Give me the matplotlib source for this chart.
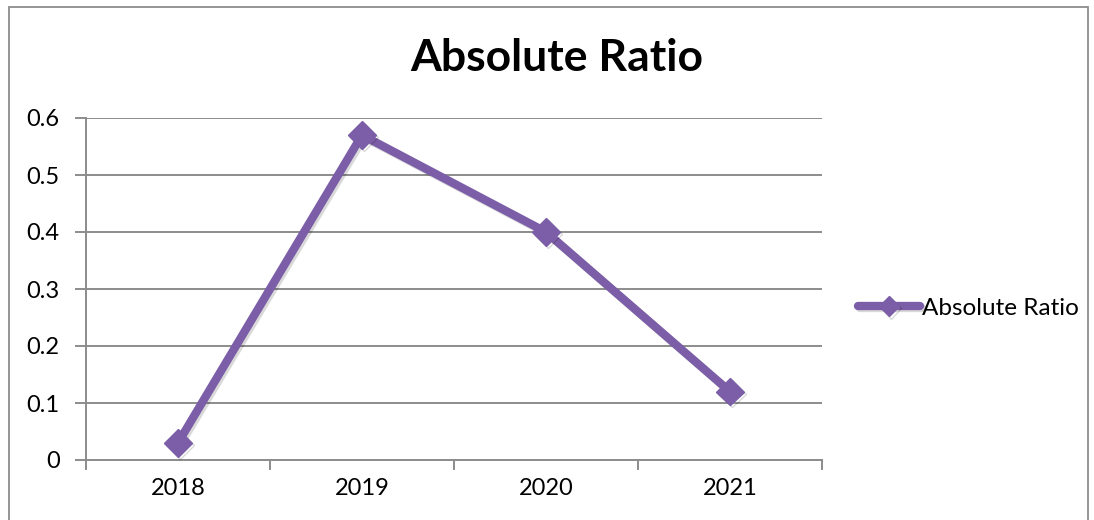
import matplotlib.pyplot as plt
from matplotlib.patches import Rectangle
import matplotlib.patheffects as pe

years = ["2018", "2019", "2020", "2021"]
ratio = [0.03, 0.57, 0.40, 0.12]
y_ticks = [0, 0.1, 0.2, 0.3, 0.4, 0.5, 0.6]
y_labels = ["0", "0.1", "0.2", "0.3", "0.4", "0.5", "0.6"]

plt.rcParams['font.family'] = ['Lato', 'DejaVu Sans']
purple = '#7b5ea7'
grid_grey = '#8c8c8c'

fig = plt.figure(figsize=(10.94, 5.2), dpi=100)
# outer chart frame
fig.patches.append(Rectangle((9 / 1094, -0.05), 1079 / 1094, 1.05 - 7 / 520,
                             transform=fig.transFigure, fill=False,
                             edgecolor='#8c8c8c', linewidth=1.3))

ax = fig.add_axes([86 / 1094, 60 / 520, 736 / 1094, 342 / 520])
x = list(range(len(years)))
line, = ax.plot(x, ratio, color=purple, linewidth=6, marker='D', markersize=14,
                markerfacecolor=purple, markeredgecolor=purple,
                solid_capstyle='round', label='Absolute Ratio', zorder=3)
line.set_path_effects([pe.SimpleLineShadow(offset=(1.5, -1.5), alpha=0.15), pe.Normal()])

ax.set_xlim(-0.5, len(years) - 0.5)
ax.set_ylim(0, 0.6)
ax.set_yticks(y_ticks)
ax.set_yticklabels(y_labels)
ax.yaxis.grid(True, color=grid_grey, linewidth=1.4)
ax.set_axisbelow(True)

# category boundary ticks, labels centred between them
ax.set_xticks([i - 0.5 for i in range(len(years) + 1)])
ax.set_xticklabels([])
ax.set_xticks(x, minor=True)
ax.set_xticklabels(years, minor=True)
ax.tick_params(axis='x', which='major', length=7, color=grid_grey, width=1.4)
ax.tick_params(axis='x', which='minor', length=0, pad=13, labelsize=17)
ax.tick_params(axis='y', length=8, color=grid_grey, width=1.4, pad=11, labelsize=17)

for s in ['top', 'right']:
    ax.spines[s].set_visible(False)
for s in ['left', 'bottom']:
    ax.spines[s].set_color(grid_grey)
    ax.spines[s].set_linewidth(1.4)

fig.text(557 / 1094, 1 - 58 / 520, 'Absolute Ratio', ha='center', va='center',
         fontsize=32, fontweight='bold')

leg = ax.legend(loc='center left', bbox_to_anchor=(1.049, 0.444), frameon=False,
                fontsize=17.5, handlelength=2.55, handletextpad=0.1,
                borderpad=0, borderaxespad=0, markerscale=0.75)

fig.savefig('out.png', dpi=100)
